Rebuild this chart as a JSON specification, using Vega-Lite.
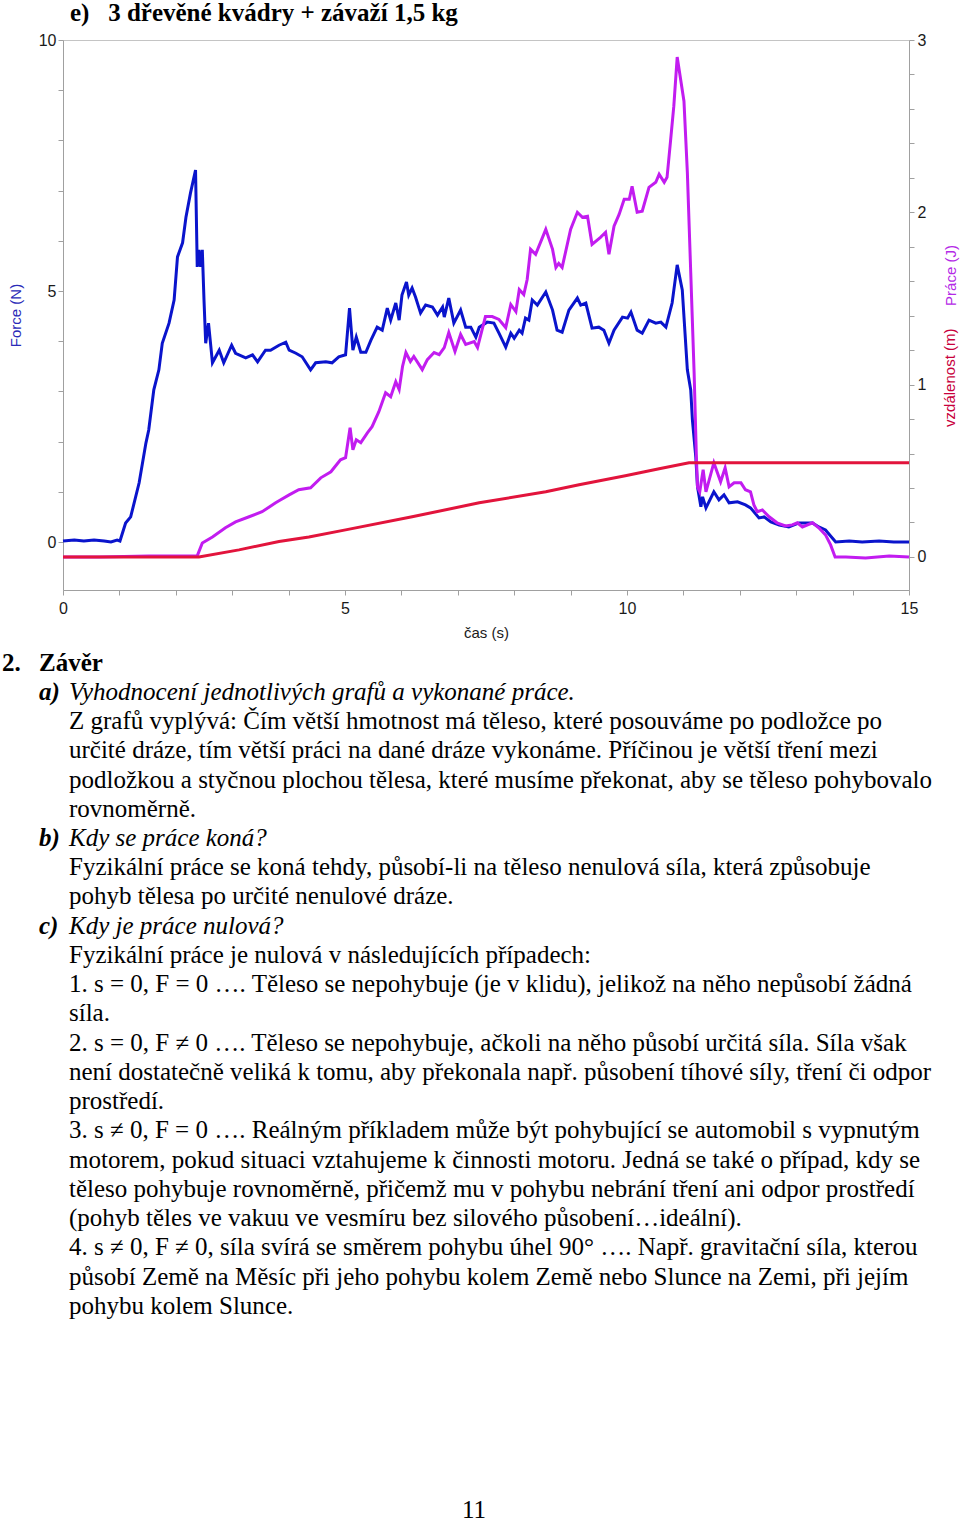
{
  "$schema": "https://vega.github.io/schema/vega-lite/v6.json",
  "padding": {"left": 2, "top": 0, "right": 0, "bottom": 0},
  "spacing": 7,
  "config": {
    "font": "Liberation Sans",
    "view": {"stroke": "#c4c4c4"},
    "axis": {
      "domainColor": "#a0a0a0", "tickColor": "#a0a0a0", "tickSize": 5,
      "labelFont": "Liberation Sans", "labelFontSize": 16, "labelColor": "#1a1a1a", "labelFlush": false,
      "titleFont": "Liberation Sans", "titleFontSize": 15, "titleFontWeight": "normal", "titleColor": "#1a1a1a",
      "grid": false
    }
  },
  "datasets": {
    "force": [
      {"t":0.00,"F":0.02},{"t":0.20,"F":0.04},{"t":0.37,"F":0.02},{"t":0.55,"F":0.04},{"t":0.73,"F":0.02},{"t":0.85,"F":0.00},{"t":0.96,"F":0.04},{"t":1.01,"F":0.02},
      {"t":1.11,"F":0.38},{"t":1.20,"F":0.50},{"t":1.35,"F":1.18},{"t":1.47,"F":1.97},{"t":1.52,"F":2.23},{"t":1.61,"F":3.03},{"t":1.70,"F":3.43},{"t":1.76,"F":3.96},
      {"t":1.88,"F":4.36},{"t":1.97,"F":4.82},{"t":2.03,"F":5.68},{"t":2.12,"F":5.96},{"t":2.18,"F":6.47},{"t":2.26,"F":6.95},{"t":2.35,"F":7.41},{"t":2.38,"F":5.48},
      {"t":2.41,"F":5.82},{"t":2.44,"F":5.48},{"t":2.47,"F":5.82},{"t":2.50,"F":4.82},{"t":2.53,"F":3.96},{"t":2.58,"F":4.36},{"t":2.61,"F":4.02},{"t":2.65,"F":3.57},
      {"t":2.77,"F":3.82},{"t":2.85,"F":3.57},{"t":2.99,"F":3.92},{"t":3.06,"F":3.76},{"t":3.24,"F":3.67},{"t":3.36,"F":3.73},{"t":3.45,"F":3.59},{"t":3.59,"F":3.82},
      {"t":3.68,"F":3.82},{"t":3.83,"F":3.92},{"t":3.95,"F":3.98},{"t":4.01,"F":3.82},{"t":4.13,"F":3.76},{"t":4.24,"F":3.69},{"t":4.39,"F":3.43},{"t":4.48,"F":3.57},
      {"t":4.66,"F":3.59},{"t":4.77,"F":3.57},{"t":4.89,"F":3.69},{"t":5.01,"F":3.73},{"t":5.08,"F":4.66},{"t":5.14,"F":3.82},{"t":5.20,"F":4.08},{"t":5.28,"F":3.78},
      {"t":5.37,"F":3.78},{"t":5.46,"F":4.02},{"t":5.57,"F":4.28},{"t":5.66,"F":4.22},{"t":5.75,"F":4.66},{"t":5.81,"F":4.42},{"t":5.90,"F":4.76},{"t":5.96,"F":4.42},
      {"t":6.01,"F":4.92},{"t":6.09,"F":5.18},{"t":6.13,"F":4.92},{"t":6.19,"F":5.06},{"t":6.25,"F":4.88},{"t":6.34,"F":4.56},{"t":6.43,"F":4.72},{"t":6.55,"F":4.68},
      {"t":6.64,"F":4.52},{"t":6.73,"F":4.68},{"t":6.76,"F":4.48},{"t":6.84,"F":4.86},{"t":6.93,"F":4.36},{"t":7.05,"F":4.62},{"t":7.14,"F":4.28},{"t":7.23,"F":4.28},
      {"t":7.32,"F":4.08},{"t":7.38,"F":4.28},{"t":7.52,"F":4.38},{"t":7.64,"F":4.36},{"t":7.73,"F":4.16},{"t":7.85,"F":3.88},{"t":7.94,"F":4.16},{"t":8.00,"F":4.06},
      {"t":8.09,"F":4.22},{"t":8.14,"F":4.16},{"t":8.20,"F":4.46},{"t":8.26,"F":4.42},{"t":8.32,"F":4.82},{"t":8.41,"F":4.72},{"t":8.56,"F":4.98},{"t":8.68,"F":4.62},
      {"t":8.76,"F":4.22},{"t":8.85,"F":4.18},{"t":8.97,"F":4.62},{"t":9.12,"F":4.86},{"t":9.18,"F":4.72},{"t":9.27,"F":4.76},{"t":9.38,"F":4.26},{"t":9.50,"F":4.28},
      {"t":9.59,"F":4.22},{"t":9.68,"F":3.96},{"t":9.77,"F":4.22},{"t":9.92,"F":4.48},{"t":10.01,"F":4.46},{"t":10.07,"F":4.58},{"t":10.18,"F":4.22},{"t":10.27,"F":4.16},
      {"t":10.39,"F":4.42},{"t":10.51,"F":4.36},{"t":10.60,"F":4.38},{"t":10.69,"F":4.28},{"t":10.80,"F":4.76},{"t":10.89,"F":5.52},{"t":10.98,"F":5.02},{"t":11.07,"F":3.43},
      {"t":11.13,"F":3.03},{"t":11.16,"F":2.43},{"t":11.22,"F":1.69},{"t":11.25,"F":1.10},{"t":11.31,"F":0.70},{"t":11.34,"F":0.90},{"t":11.40,"F":0.68},{"t":11.54,"F":1.00},
      {"t":11.63,"F":0.84},{"t":11.72,"F":0.94},{"t":11.81,"F":0.78},{"t":11.96,"F":0.80},{"t":12.10,"F":0.74},{"t":12.19,"F":0.68},{"t":12.34,"F":0.48},{"t":12.43,"F":0.50},
      {"t":12.55,"F":0.40},{"t":12.70,"F":0.34},{"t":12.87,"F":0.30},{"t":13.05,"F":0.38},{"t":13.29,"F":0.38},{"t":13.40,"F":0.30},{"t":13.52,"F":0.24},{"t":13.64,"F":0.08},
      {"t":13.70,"F":0.00},{"t":13.94,"F":0.02},{"t":14.17,"F":0.00},{"t":14.47,"F":0.02},{"t":14.73,"F":0.00},{"t":15.00,"F":0.00}
    ],
    "work": [
      {"t":0.00,"W":0},{"t":0.64,"W":0},{"t":1.52,"W":0.006},{"t":2.06,"W":0.006},{"t":2.38,"W":0.006},{"t":2.47,"W":0.081},{"t":2.65,"W":0.116},{"t":2.88,"W":0.169},
      {"t":3.06,"W":0.203},{"t":3.30,"W":0.233},{"t":3.53,"W":0.262},{"t":3.77,"W":0.314},{"t":3.83,"W":0.326},{"t":4.01,"W":0.360},{"t":4.18,"W":0.390},{"t":4.39,"W":0.401},
      {"t":4.57,"W":0.459},{"t":4.75,"W":0.494},{"t":4.92,"W":0.564},{"t":5.01,"W":0.576},{"t":5.09,"W":0.750},{"t":5.14,"W":0.622},{"t":5.20,"W":0.680},{"t":5.28,"W":0.663},
      {"t":5.40,"W":0.721},{"t":5.48,"W":0.756},{"t":5.60,"W":0.843},{"t":5.72,"W":0.953},{"t":5.81,"W":0.930},{"t":5.90,"W":1.017},{"t":5.96,"W":0.971},{"t":6.02,"W":1.105},
      {"t":6.08,"W":1.186},{"t":6.16,"W":1.134},{"t":6.22,"W":1.163},{"t":6.37,"W":1.087},{"t":6.46,"W":1.145},{"t":6.58,"W":1.186},{"t":6.67,"W":1.174},{"t":6.76,"W":1.215},
      {"t":6.84,"W":1.302},{"t":6.95,"W":1.192},{"t":7.05,"W":1.291},{"t":7.14,"W":1.233},{"t":7.29,"W":1.250},{"t":7.35,"W":1.215},{"t":7.49,"W":1.395},{"t":7.61,"W":1.395},
      {"t":7.73,"W":1.378},{"t":7.85,"W":1.331},{"t":7.94,"W":1.465},{"t":8.03,"W":1.424},{"t":8.09,"W":1.552},{"t":8.17,"W":1.523},{"t":8.23,"W":1.610},{"t":8.29,"W":1.785},
      {"t":8.38,"W":1.756},{"t":8.56,"W":1.901},{"t":8.68,"W":1.785},{"t":8.74,"W":1.680},{"t":8.79,"W":1.703},{"t":8.85,"W":1.680},{"t":9.00,"W":1.901},{"t":9.12,"W":2.000},
      {"t":9.21,"W":1.971},{"t":9.30,"W":1.977},{"t":9.38,"W":1.814},{"t":9.53,"W":1.855},{"t":9.62,"W":1.884},{"t":9.68,"W":1.756},{"t":9.77,"W":1.919},{"t":9.86,"W":1.988},
      {"t":9.95,"W":2.076},{"t":10.04,"W":2.076},{"t":10.09,"W":2.151},{"t":10.18,"W":2.000},{"t":10.27,"W":2.006},{"t":10.39,"W":2.145},{"t":10.51,"W":2.174},{"t":10.57,"W":2.221},
      {"t":10.66,"W":2.174},{"t":10.71,"W":2.203},{"t":10.77,"W":2.407},{"t":10.83,"W":2.616},{"t":10.89,"W":2.901},{"t":11.01,"W":2.645},{"t":11.07,"W":2.233},{"t":11.13,"W":1.651},
      {"t":11.19,"W":1.070},{"t":11.23,"W":0.581},{"t":11.25,"W":0.407},{"t":11.29,"W":0.378},{"t":11.35,"W":0.506},{"t":11.40,"W":0.378},{"t":11.54,"W":0.547},{"t":11.66,"W":0.436},
      {"t":11.74,"W":0.517},{"t":11.81,"W":0.407},{"t":11.90,"W":0.430},{"t":12.02,"W":0.430},{"t":12.10,"W":0.390},{"t":12.19,"W":0.378},{"t":12.25,"W":0.302},{"t":12.31,"W":0.262},
      {"t":12.40,"W":0.273},{"t":12.52,"W":0.233},{"t":12.66,"W":0.198},{"t":12.81,"W":0.180},{"t":12.93,"W":0.186},{"t":13.02,"W":0.198},{"t":13.11,"W":0.174},{"t":13.29,"W":0.198},
      {"t":13.40,"W":0.169},{"t":13.52,"W":0.128},{"t":13.61,"W":0.070},{"t":13.69,"W":0.000},{"t":13.88,"W":0.000},{"t":14.23,"W":-0.006},{"t":14.65,"W":0.006},{"t":15.00,"W":0.000}
    ],
    "dist": [
      {"t":0.00,"s":0},{"t":2.41,"s":0},{"t":3.12,"s":0.041},{"t":3.83,"s":0.089},{"t":4.36,"s":0.116},{"t":5.01,"s":0.157},{"t":6.19,"s":0.233},{"t":7.38,"s":0.314},
      {"t":8.56,"s":0.378},{"t":9.15,"s":0.419},{"t":9.97,"s":0.471},{"t":10.57,"s":0.512},{"t":11.10,"s":0.547},{"t":11.25,"s":0.547},{"t":15.00,"s":0.547}
    ],
    "notes": [
      {"line":1,"kind":"hnum","text":"2."},
      {"line":1,"kind":"head","text":"Závěr"},
      {"line":2,"kind":"qlabel","text":"a)"},
      {"line":2,"kind":"qtext","text":"Vyhodnocení jednotlivých grafů a vykonané práce."},
      {"line":3,"kind":"body","text":"Z grafů vyplývá: Čím větší hmotnost má těleso, které posouváme po podložce po"},
      {"line":4,"kind":"body","text":"určité dráze, tím větší práci na dané dráze vykonáme. Příčinou je větší tření mezi"},
      {"line":5,"kind":"body","text":"podložkou a styčnou plochou tělesa, které musíme překonat, aby se těleso pohybovalo"},
      {"line":6,"kind":"body","text":"rovnoměrně."},
      {"line":7,"kind":"qlabel","text":"b)"},
      {"line":7,"kind":"qtext","text":"Kdy se práce koná?"},
      {"line":8,"kind":"body","text":"Fyzikální práce se koná tehdy, působí-li na těleso nenulová síla, která způsobuje"},
      {"line":9,"kind":"body","text":"pohyb tělesa po určité nenulové dráze."},
      {"line":10,"kind":"qlabel","text":"c)"},
      {"line":10,"kind":"qtext","text":"Kdy je práce nulová?"},
      {"line":11,"kind":"body","text":"Fyzikální práce je nulová v následujících případech:"},
      {"line":12,"kind":"body","text":"1. s = 0, F = 0 …. Těleso se nepohybuje (je v klidu), jelikož na něho nepůsobí žádná"},
      {"line":13,"kind":"body","text":"síla."},
      {"line":14,"kind":"body","text":"2. s = 0, F ≠ 0 …. Těleso se nepohybuje, ačkoli na něho působí určitá síla. Síla však"},
      {"line":15,"kind":"body","text":"není dostatečně veliká k tomu, aby překonala např. působení tíhové síly, tření či odpor"},
      {"line":16,"kind":"body","text":"prostředí."},
      {"line":17,"kind":"body","text":"3. s ≠ 0, F = 0 …. Reálným příkladem může být pohybující se automobil s vypnutým"},
      {"line":18,"kind":"body","text":"motorem, pokud situaci vztahujeme k činnosti motoru. Jedná se také o případ, kdy se"},
      {"line":19,"kind":"body","text":"těleso pohybuje rovnoměrně, přičemž mu v pohybu nebrání tření ani odpor prostředí"},
      {"line":20,"kind":"body","text":"(pohyb těles ve vakuu ve vesmíru bez silového působení…ideální)."},
      {"line":21,"kind":"body","text":"4. s ≠ 0, F ≠ 0, síla svírá se směrem pohybu úhel 90° …. Např. gravitační síla, kterou"},
      {"line":22,"kind":"body","text":"působí Země na Měsíc při jeho pohybu kolem Země nebo Slunce na Zemi, při jejím"},
      {"line":23,"kind":"body","text":"pohybu kolem Slunce."},
      {"line":30,"kind":"page","text":"11"}
    ]
  },
  "vconcat": [
    {
      "width": 846,
      "height": 550,
      "title": {"text": "e)\u00a0\u00a0\u00a03 dřevěné kvádry + závaží 1,5 kg", "anchor": "start", "frame": "group", "font": "Liberation Serif", "fontSize": 25, "fontWeight": "bold", "color": "#000000", "dx": 7, "offset": 6},
      "layer": [
        {
          "layer": [
            {
              "mark": {"type": "rule", "color": "#b8b8b8", "strokeWidth": 1},
              "encoding": {"y": {"datum": 0, "type": "quantitative"}}
            },
            {
              "data": {"name": "force"},
              "mark": {"type": "line", "color": "#0a14cc", "strokeWidth": 3},
              "encoding": {
                "x": {"field": "t", "type": "quantitative", "scale": {"domain": [0, 15], "nice": false, "zero": false},
                      "axis": {"title": "čas (s)", "values": [0,1,2,3,4,5,6,7,8,9,10,11,12,13,14,15], "labelExpr": "datum.value % 5 === 0 ? format(datum.value, 'd') : ''", "labelPadding": 5, "titlePadding": 9}},
                "y": {"field": "F", "type": "quantitative", "scale": {"domain": [-0.956, 10], "nice": false, "zero": false},
                      "axis": {"title": "Force (N)", "titleColor": "#2a2ab8", "titlePadding": 15, "values": [0,1,2,3,4,5,6,7,8,9,10], "labelExpr": "datum.value % 5 === 0 ? format(datum.value, 'd') : ''", "labelPadding": 2}}
              }
            }
          ]
        },
        {
          "layer": [
            {
              "data": {"name": "work"},
              "mark": {"type": "line", "color": "#c21cf0", "strokeWidth": 3},
              "encoding": {
                "x": {"field": "t", "type": "quantitative"},
                "y": {"field": "W", "type": "quantitative", "scale": {"domain": [-0.192, 3], "nice": false, "zero": false},
                      "axis": {"title": "Práce (J)", "titleColor": "#b42ae6", "titleAngle": 270, "titleY": 235, "titlePadding": 33,
                               "values": [0,0.2,0.4,0.6,0.8,1,1.2,1.4,1.6,1.8,2,2.2,2.4,2.6,2.8,3],
                               "labelExpr": "abs(datum.value - round(datum.value)) < 0.001 ? format(datum.value, 'd') : ''", "labelPadding": 3}}
              }
            },
            {
              "data": {"name": "dist"},
              "mark": {"type": "line", "color": "#e2143c", "strokeWidth": 3},
              "encoding": {
                "x": {"field": "t", "type": "quantitative"},
                "y": {"field": "s", "type": "quantitative",
                      "axis": {"title": "Práce (J)", "titleColor": "#b42ae6", "titleAngle": 270, "titleY": 235, "titlePadding": 33,
                               "values": [0,0.2,0.4,0.6,0.8,1,1.2,1.4,1.6,1.8,2,2.2,2.4,2.6,2.8,3],
                               "labelExpr": "abs(datum.value - round(datum.value)) < 0.001 ? format(datum.value, 'd') : ''", "labelPadding": 3}}
              }
            },
            {
              "data": {"values": [{}]},
              "mark": {"type": "text", "text": "vzdálenost (m)", "angle": 270, "color": "#c8003c", "font": "Liberation Sans", "fontSize": 15, "align": "center", "baseline": "middle"},
              "encoding": {
                "x": {"datum": 15.73, "type": "quantitative"},
                "y": {"datum": 1.04, "type": "quantitative",
                      "axis": {"title": "Práce (J)", "titleColor": "#b42ae6", "titleAngle": 270, "titleY": 235, "titlePadding": 33,
                               "values": [0,0.2,0.4,0.6,0.8,1,1.2,1.4,1.6,1.8,2,2.2,2.4,2.6,2.8,3],
                               "labelExpr": "abs(datum.value - round(datum.value)) < 0.001 ? format(datum.value, 'd') : ''", "labelPadding": 3}}
              }
            }
          ]
        }
      ],
      "resolve": {"scale": {"y": "independent"}, "axis": {"y": "independent"}}
    },
    {
      "width": 880,
      "height": 877,
      "view": {"stroke": null},
      "data": {"name": "notes"},
      "encoding": {
        "y": {"field": "line", "type": "quantitative", "scale": {"domain": [0.5, 30.5], "reverse": true, "nice": false, "zero": false}, "axis": null},
        "text": {"field": "text"}
      },
      "layer": [
        {
          "transform": [{"filter": "datum.kind === 'hnum'"}],
          "mark": {"type": "text", "align": "left", "baseline": "middle", "font": "Liberation Serif", "fontSize": 25, "fontWeight": "bold", "color": "#000000"},
          "encoding": {"x": {"datum": -61, "type": "quantitative", "scale": {"domain": [0, 880], "nice": false, "zero": false}, "axis": null}}
        },
        {
          "transform": [{"filter": "datum.kind === 'head'"}],
          "mark": {"type": "text", "align": "left", "baseline": "middle", "font": "Liberation Serif", "fontSize": 25, "fontWeight": "bold", "color": "#000000"},
          "encoding": {"x": {"datum": -24, "type": "quantitative", "axis": null}}
        },
        {
          "transform": [{"filter": "datum.kind === 'qlabel'"}],
          "mark": {"type": "text", "align": "left", "baseline": "middle", "font": "Liberation Serif", "fontSize": 25, "fontWeight": "bold", "fontStyle": "italic", "color": "#000000"},
          "encoding": {"x": {"datum": -24, "type": "quantitative", "axis": null}}
        },
        {
          "transform": [{"filter": "datum.kind === 'qtext'"}],
          "mark": {"type": "text", "align": "left", "baseline": "middle", "font": "Liberation Serif", "fontSize": 25, "fontStyle": "italic", "color": "#000000"},
          "encoding": {"x": {"datum": 6, "type": "quantitative", "axis": null}}
        },
        {
          "transform": [{"filter": "datum.kind === 'body'"}],
          "mark": {"type": "text", "align": "left", "baseline": "middle", "font": "Liberation Serif", "fontSize": 25, "color": "#000000"},
          "encoding": {"x": {"datum": 6, "type": "quantitative", "axis": null}}
        },
        {
          "transform": [{"filter": "datum.kind === 'page'"}],
          "mark": {"type": "text", "align": "center", "baseline": "middle", "font": "Liberation Serif", "fontSize": 25, "color": "#000000"},
          "encoding": {"x": {"datum": 411, "type": "quantitative", "axis": null}}
        }
      ]
    }
  ]
}
